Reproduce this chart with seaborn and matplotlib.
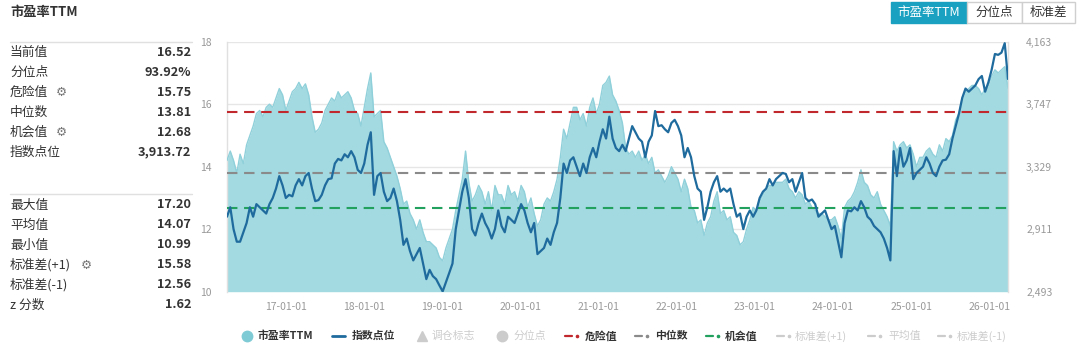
import numpy as np
import pandas as pd
import matplotlib
matplotlib.use("Agg")
import matplotlib.pyplot as plt
import matplotlib.dates as mdates
from matplotlib.lines import Line2D
from matplotlib.patches import Rectangle
import seaborn as sns

sns.set_theme(style="white")
plt.rcParams["font.family"] = ["Noto Sans CJK SC", "DejaVu Sans"]
plt.rcParams["axes.unicode_minus"] = False

# ---------------- data ----------------
start_date = "2016-04-01"
end_date = "2026-03-29"

pe_ttm = [
    14.2, 14.5, 14.2, 13.8, 14.4, 14.1, 14.7, 15.0, 15.3, 15.7,
    15.8, 15.6, 15.9, 16.0, 15.9, 16.2, 16.5, 16.3, 15.8, 16.1,
    16.4, 16.5, 16.7, 16.5, 16.65, 16.3, 15.6, 15.1, 15.2, 15.4,
    15.8, 16.0, 16.2, 16.1, 16.4, 16.2, 16.3, 16.4, 16.2, 15.8,
    15.7, 15.3, 15.9, 16.5, 17.0, 15.6, 15.7, 15.8, 14.8, 14.6,
    14.3, 14.0, 13.7, 13.3, 12.8, 12.9, 12.5, 12.3, 12.0, 12.3,
    11.9, 11.6, 11.6, 11.5, 11.4, 11.1, 10.99, 11.4, 11.7, 12.0,
    12.6, 13.1, 13.6, 14.5, 13.5, 12.9, 13.1, 13.4, 13.2, 12.8,
    13.2, 12.6, 13.4, 13.1, 13.1, 12.8, 13.4, 13.1, 13.2, 12.9,
    13.4, 13.2, 12.7, 13.0, 12.5, 12.1, 12.3, 12.8, 13.0, 12.9,
    13.2, 13.6, 14.3, 15.2, 14.9, 15.4, 15.9, 15.9, 15.5, 15.7,
    15.3, 15.9, 16.2, 15.7, 16.0, 16.6, 16.7, 16.9, 16.3, 16.1,
    15.8, 15.4, 14.6, 14.4, 14.5, 14.3, 14.5, 14.2, 14.4, 14.1,
    14.3, 13.8, 13.9, 13.7, 13.5, 13.7, 14.0, 13.8, 13.6, 13.2,
    13.6, 13.3, 12.7, 12.6, 12.2, 12.3, 11.8, 12.2, 12.4, 12.9,
    13.2, 12.5, 12.6, 12.3, 12.4, 11.9, 11.8, 11.5, 11.6, 12.0,
    12.3, 12.7, 12.6, 12.9, 13.1, 13.3, 13.4, 13.4, 13.5, 13.5,
    13.5, 13.6, 13.3, 13.2, 13.0, 13.2, 13.1, 12.8, 12.9, 12.7,
    12.6, 12.5, 12.5, 12.4, 12.3, 12.3, 12.4, 12.1, 11.7, 12.7,
    12.9, 13.0, 13.2, 13.5, 13.9, 13.5, 13.4, 13.1, 13.0, 13.2,
    12.8, 12.6, 12.4, 12.1, 14.8, 14.5, 14.7, 14.8, 14.6, 14.7,
    14.4, 14.0, 14.3, 14.3, 14.5, 14.6, 14.4, 14.3, 14.7, 14.5,
    14.9, 14.8, 15.0, 15.5, 15.7, 16.2, 16.4, 16.5, 16.6, 16.6,
    16.5, 16.3, 16.5, 16.6, 16.9, 17.1, 17.0, 17.1, 17.2, 16.52,
]

index_points = [
    2994, 3057, 2911, 2827, 2827, 2890, 2952, 3057, 2994, 3078,
    3057, 3036, 3015, 3078, 3119, 3182, 3265, 3203, 3119, 3140,
    3130, 3203, 3245, 3203, 3265, 3286, 3182, 3098, 3105, 3140,
    3203, 3245, 3250, 3349, 3380, 3370, 3411, 3391, 3432, 3391,
    3307, 3286, 3349, 3474, 3558, 3140, 3265, 3286, 3161, 3098,
    3119, 3182, 3098, 2973, 2806, 2848, 2764, 2702, 2744, 2785,
    2681, 2577, 2639, 2597, 2577, 2535, 2495, 2556, 2618, 2681,
    2911, 3036, 3161, 3245, 3119, 2911, 2869, 2952, 3015, 2952,
    2911, 2848, 2911, 3036, 2932, 2890, 2994, 2973, 2952, 3015,
    3078, 3036, 2952, 2890, 2952, 2744, 2764, 2785, 2848, 2806,
    2890, 2952, 3119, 3349, 3286, 3370, 3391, 3328, 3265, 3349,
    3286, 3391, 3453, 3391, 3495, 3578, 3516, 3662, 3516, 3453,
    3432, 3474, 3432, 3516, 3599, 3558, 3516, 3495, 3391, 3495,
    3537, 3700, 3599, 3605, 3578, 3558, 3620, 3641, 3599, 3537,
    3391, 3453, 3391, 3265, 3182, 3161, 2973, 3057, 3161, 3224,
    3265, 3161, 3182, 3161, 3182, 3078, 2994, 3015, 2911, 2994,
    3036, 2994, 3036, 3119, 3161, 3182, 3245, 3203, 3245, 3265,
    3286, 3280, 3224, 3245, 3161, 3224, 3286, 3119, 3098, 3109,
    3078, 2994, 3015, 3036, 2973, 2911, 2932, 2827, 2723, 2952,
    3036, 3030, 3057, 3036, 3098, 3057, 2994, 2973, 2932, 2911,
    2890, 2848, 2785, 2702, 3432, 3265, 3453, 3328, 3370, 3453,
    3245, 3286, 3307, 3328, 3391, 3349, 3286, 3265, 3328, 3370,
    3375, 3411, 3516, 3599, 3683, 3788, 3850, 3829, 3850, 3871,
    3913, 3934, 3829, 3892, 3976, 4081, 4075, 4090, 4153, 3913.72,
]

danger_value = 15.75
median_value = 13.81
chance_value = 12.68

stat_labels_top = ["当前值", "分位点", "危险值", "中位数", "机会值", "指数点位"]
stat_values_top = ["16.52", "93.92%", "15.75", "13.81", "12.68", "3,913.72"]
stat_gear_top = [False, False, True, False, True, False]
stat_labels_bottom = ["最大值", "平均值", "最小值", "标准差(+1)", "标准差(-1)", "z 分数"]
stat_values_bottom = ["17.20", "14.07", "10.99", "15.58", "12.56", "1.62"]
stat_gear_bottom = [False, False, False, True, False, False]

pe_ticks = [10, 12, 14, 16, 18]
index_ticks = [2493, 2911, 3329, 3747, 4163]
year_ticks = ["2017-01-01", "2018-01-01", "2019-01-01", "2020-01-01", "2021-01-01",
              "2022-01-01", "2023-01-01", "2024-01-01", "2025-01-01", "2026-01-01"]

tab_labels = ["市盈率TTM", "分位点", "标准差"]
legend_labels = ["市盈率TTM", "指数点位", "调仓标志", "分位点", "危险值", "中位数",
                 "机会值", "标准差(+1)", "平均值", "标准差(-1)"]

# ---------------- style ----------------
W, H = 1080, 347
AREA = "#a3d9e0"
AREA_EDGE = "#8fd0da"
LINE = "#1f6b9e"
RED = "#c0282e"
GRAY = "#8a8a8a"
GREEN = "#21a05e"
TEAL = "#1aa1c1"
FADED = "#cccccc"
TXT = "#333333"
TICK = "#999999"

dates = pd.date_range(start_date, end_date, periods=len(pe_ttm))
df = pd.DataFrame({"date": dates, "pe": pe_ttm, "idx": index_points})

fig = plt.figure(figsize=(W / 100, H / 100), dpi=100)
fig.patch.set_facecolor("white")


def fx(x):
    return x / W


def fy(y):
    return 1 - y / H


def T(x, y, s, **kw):
    kw.setdefault("va", "center")
    return fig.text(fx(x), fy(y), s, **kw)


ax = fig.add_axes([fx(227), fy(291.7), (1008 - 227) / W, (291.7 - 41.7) / H])
ax.set_facecolor("white")
ax.set_xlim(dates[0], dates[-1])
ax.set_ylim(10, 18)

ax.fill_between(df["date"], 10, df["pe"], color=AREA, lw=0, zorder=2)
sns.lineplot(data=df, x="date", y="pe", ax=ax, color=AREA_EDGE, lw=1.0, zorder=3)

dash = (0, (5, 3.2))
ax.axhline(danger_value, color=RED, lw=1.5, ls=dash, zorder=4)
ax.axhline(median_value, color=GRAY, lw=1.5, ls=dash, zorder=4)
ax.axhline(chance_value, color=GREEN, lw=1.5, ls=dash, zorder=4)

ax.set_yticks(pe_ticks)
ax.set_yticklabels([str(t) for t in pe_ticks])
ax.grid(axis="y", color="#e6e6e6", lw=1)
ax.grid(axis="x", visible=False)
ax.set_axisbelow(True)
ax.set_xticks(pd.to_datetime(year_ticks))
ax.xaxis.set_major_formatter(mdates.DateFormatter("%y-%m-%d"))
ax.tick_params(axis="x", length=6, width=1, color="#dddddd", labelsize=7.5,
               labelcolor=TICK, pad=1.5, direction="out")
ax.tick_params(axis="y", length=0, labelsize=7.5, labelcolor=TICK, pad=11)
ax.set_xlabel("")
ax.set_ylabel("")
for side in ["top", "bottom", "right"]:
    ax.spines[side].set_visible(False)
ax.spines["left"].set_color("#e0e0e0")
ax.spines["left"].set_linewidth(1)

ax2 = ax.twinx()
sns.lineplot(data=df, x="date", y="idx", ax=ax2, color=LINE, lw=1.6, zorder=5)
ax2.set_ylim(index_ticks[0], index_ticks[-1])
ax2.set_yticks(index_ticks)
ax2.set_yticklabels([f"{t:,}" for t in index_ticks])
ax2.tick_params(axis="y", length=0, labelsize=7.5, labelcolor=TICK, pad=13)
ax2.set_ylabel("")
ax2.set_xlabel("")
ax2.grid(False)
for side in ["top", "bottom", "left"]:
    ax2.spines[side].set_visible(False)
ax2.spines["right"].set_color("#e0e0e0")
ax2.spines["right"].set_linewidth(1)

# ---------------- left stats panel ----------------
T(10, 12, "市盈率TTM", fontsize=9.5, weight="bold", color=TXT)
for ysep in (42, 194.5):
    fig.add_artist(Line2D([fx(10), fx(192)], [fy(ysep), fy(ysep)],
                          transform=fig.transFigure, color="#e0e0e0", lw=1))


def stat_block(y0, labels, values, gears):
    for i, (lab, val, g) in enumerate(zip(labels, values, gears)):
        y = y0 + 20 * i
        T(10, y, lab, fontsize=9.2, color=TXT)
        T(191, y, val, fontsize=9.2, color=TXT, weight="bold", ha="right")
        if g:
            gx = 61 if len(lab) == 3 else 86
            T(gx, y, "\u2699", fontsize=9, color="#777777", ha="center",
              family="DejaVu Sans")


stat_block(52, stat_labels_top, stat_values_top, stat_gear_top)
stat_block(205, stat_labels_bottom, stat_values_bottom, stat_gear_bottom)

# ---------------- top-right tabs ----------------
tab_edges = [(891, 967), (967, 1022), (1022, 1075)]
for i, (lab, (x0, x1)) in enumerate(zip(tab_labels, tab_edges)):
    active = i == 0
    fig.add_artist(Rectangle((fx(x0), fy(23)), (x1 - x0) / W, 21 / H,
                             transform=fig.transFigure,
                             facecolor=TEAL if active else "white",
                             edgecolor=TEAL if active else "#cfcfcf", lw=1))
    T((x0 + x1) / 2, 12.5, lab, fontsize=9, ha="center",
      color="white" if active else TXT)

# ---------------- bottom legend ----------------
LY = 336


def mark(x, marker, color, ms):
    fig.add_artist(Line2D([fx(x)], [fy(LY)], transform=fig.transFigure,
                          marker=marker, ms=ms, color=color, lw=0))


def dashdot(x, color):
    fig.add_artist(Line2D([fx(x), fx(x + 7)], [fy(LY), fy(LY)],
                          transform=fig.transFigure, color=color, lw=1.6))
    fig.add_artist(Line2D([fx(x + 12)], [fy(LY)], transform=fig.transFigure,
                          marker="o", ms=1.6, color=color, lw=0))


mark(246.7, "o", "#7fcbd5", 7.5)
fig.add_artist(Line2D([fx(332), fx(345)], [fy(LY), fy(LY)],
                      transform=fig.transFigure, color=LINE, lw=2))
mark(422, "^", FADED, 6.5)
mark(502, "o", FADED, 7.5)
dashdot(565, RED)
dashdot(635, GRAY)
dashdot(706, GREEN)
dashdot(777, FADED)
dashdot(868, FADED)
dashdot(938, FADED)

legend_x = [258, 352, 432, 513, 585, 655, 725, 795, 888, 957]
legend_active = [True, True, False, False, True, True, True, False, False, False]
for lx, lab, act in zip(legend_x, legend_labels, legend_active):
    T(lx, LY, lab, fontsize=7.8, color=TXT if act else FADED,
      weight="bold" if act else "normal")

fig.savefig("out.png", dpi=100, facecolor="white")
